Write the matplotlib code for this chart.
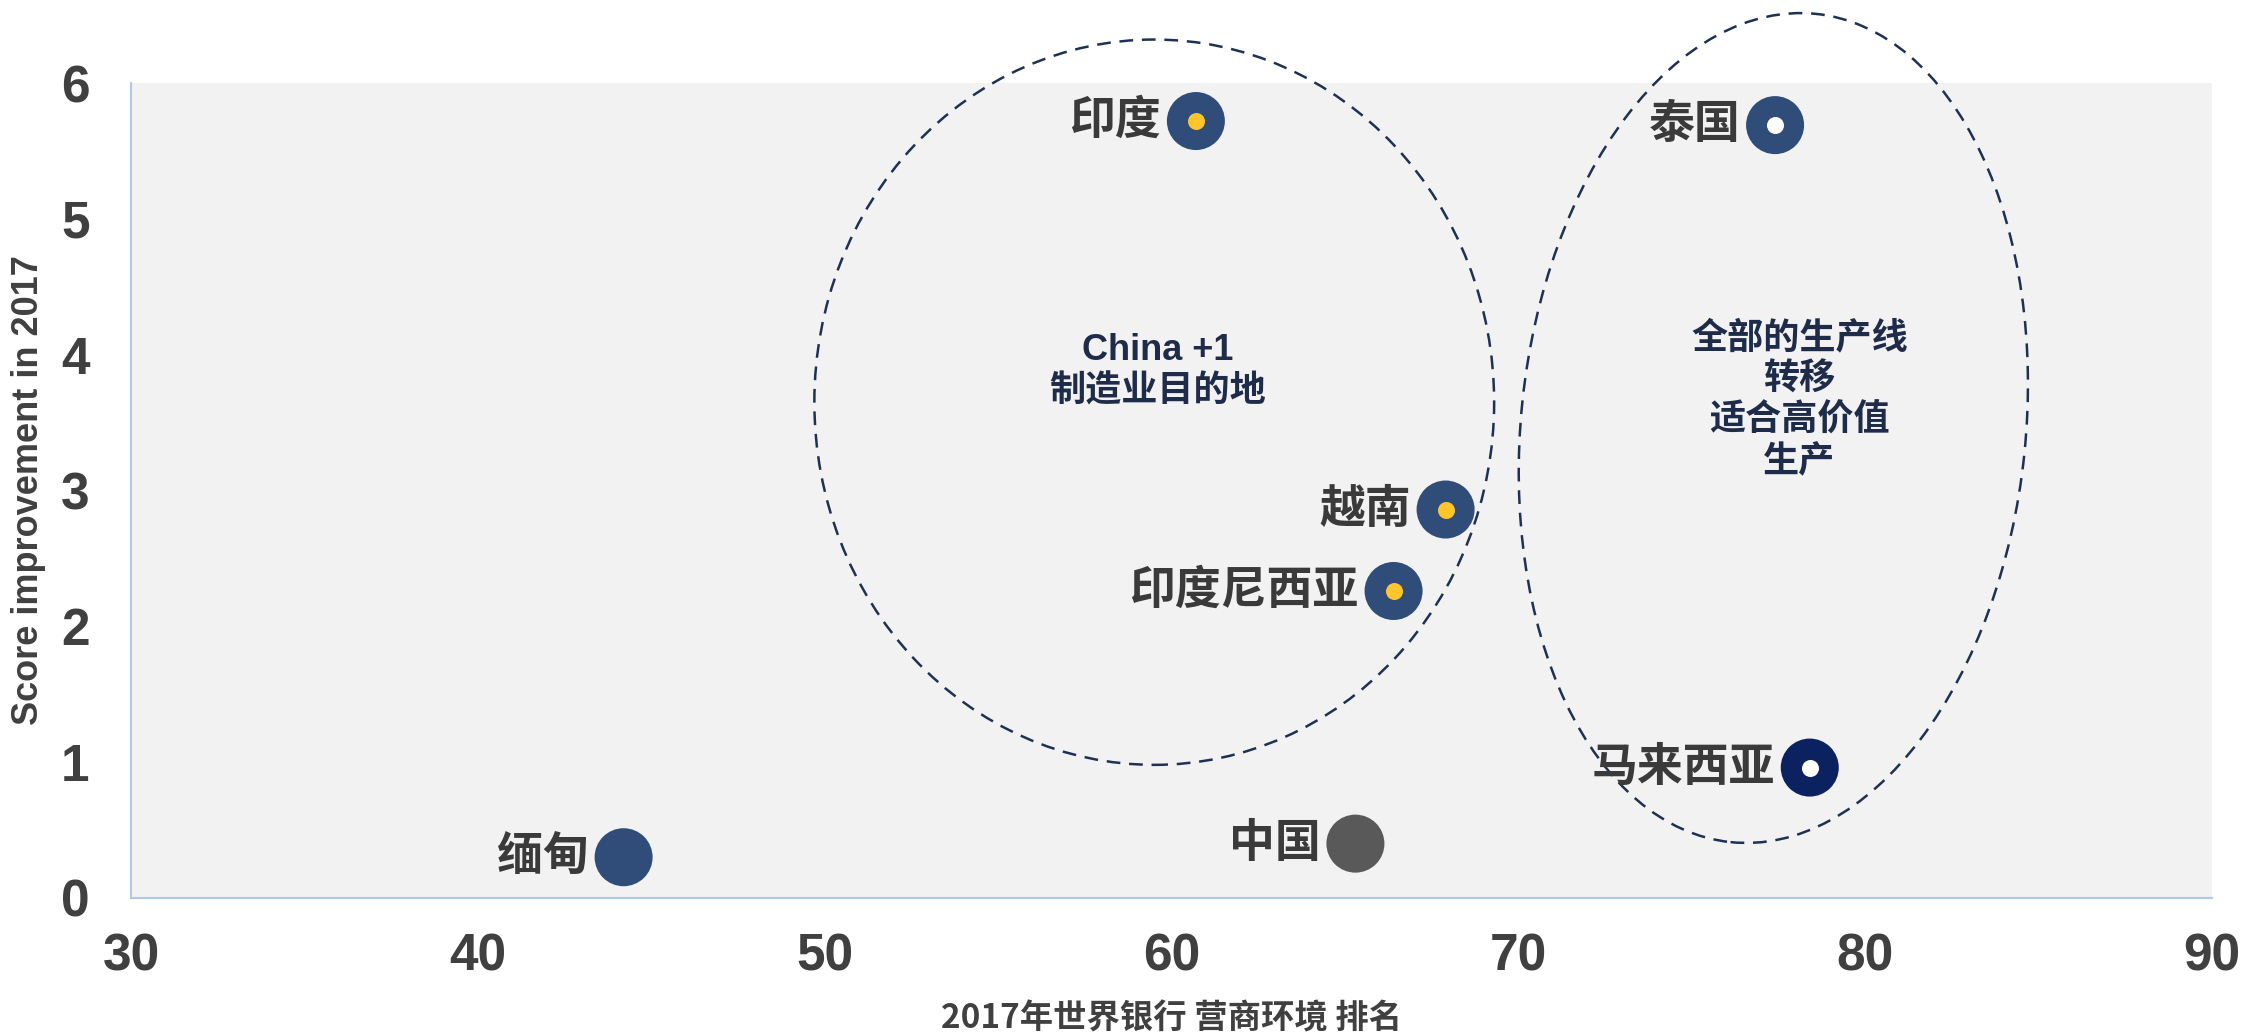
import numpy as np
import matplotlib
matplotlib.use('Agg')
import matplotlib.pyplot as plt
from matplotlib.patches import Ellipse
from matplotlib import transforms

plt.rcParams['font.family'] = ['Liberation Sans', 'Noto Sans CJK SC', 'DejaVu Sans']

# data
paises = ['印度', '泰国', '越南', '印度尼西亚', '马来西亚', '中国', '缅甸']
ranking = [60.7, 77.4, 67.9, 66.4, 78.4, 65.3, 44.2]
melhoria = [5.72, 5.69, 2.86, 2.26, 0.96, 0.40, 0.30]
cores = ['#304D79', '#304D79', '#304D79', '#304D79', '#0C2260', '#595959', '#304D79']
centro = ['#FFC62B', 'white', '#FFC62B', '#FFC62B', 'white', None, None]

x_ticks = [30, 40, 50, 60, 70, 80, 90]
y_ticks = [0, 1, 2, 3, 4, 5, 6]

texto_esq = 'China +1\n制造业目的地'
texto_dir = '全部的生产线\n转移\n适合高价值\n生产'

cinza = '#404040'
azul_txt = '#1E2C4A'

fig = plt.figure(figsize=(22.41, 10.35), dpi=100)
ax = fig.add_axes([0.0585, 0.1324, 0.9286, 0.7874])
ax.set_facecolor('#F2F2F2')
ax.set_xlim(30, 90)
ax.set_ylim(0, 6)
ax.set_xticks(x_ticks)
ax.set_yticks(y_ticks)

for s in ['top', 'right']:
    ax.spines[s].set_visible(False)
for s in ['left', 'bottom']:
    ax.spines[s].set_color('#B4C7E7')
    ax.spines[s].set_linewidth(1.5)

ax.tick_params(axis='both', length=0, labelsize=37, labelcolor=cinza)
ax.tick_params(axis='x', pad=25)
ax.tick_params(axis='y', pad=30)
for lb in ax.get_xticklabels() + ax.get_yticklabels():
    lb.set_fontweight('bold')

ax.set_xlabel('2017年世界银行 营商环境 排名', fontsize=24, fontweight='bold', color=cinza,
              family=['Noto Sans CJK SC', 'DejaVu Sans'], labelpad=15)
ax.set_ylabel('Score improvement in 2017', fontsize=26, fontweight='bold', color=cinza, labelpad=11)

# pontos
ax.scatter(ranking, melhoria, s=1745, c=cores, zorder=3, linewidths=0)
for i, p in enumerate(paises):
    if centro[i] is not None:
        ax.scatter(ranking[i], melhoria[i], s=150, c=centro[i], zorder=4, linewidths=0)
    ax.annotate(p, (ranking[i], melhoria[i]), xytext=(-25, 0), textcoords='offset points',
                ha='right', va='center', fontsize=33, fontweight='bold', color='#3A3A3A',
                family=['Noto Sans CJK SC', 'DejaVu Sans'], zorder=5)

# elipses (tamanho em unidades de dados, convertido para pixels)
fig.canvas.draw()
p0 = ax.transData.transform((30, 0))
p1 = ax.transData.transform((31, 1))
sx = p1[0] - p0[0]
sy = p1[1] - p0[1]

elipses = [
    # cx, cy, largura (x), altura (y), angulo
    (59.5, 3.65, 19.6, 5.34, 0),
    (77.35, 3.46, 14.55, 6.13, -5.9),
]
for cx, cy, w, h, ang in elipses:
    e = Ellipse((0, 0), w * sx, h * sy, angle=ang, fill=False, edgecolor='#1F3153',
                linewidth=1.8, linestyle=(0, (5.5, 3.5)),
                transform=transforms.ScaledTranslation(cx, cy, ax.transData), zorder=2)
    e.set_clip_on(False)
    ax.add_patch(e)

ax.text(59.6, 3.88, texto_esq, ha='center', va='center', fontsize=26, fontweight='bold',
        color=azul_txt, family=['Liberation Sans', 'Noto Sans CJK SC'], linespacing=1.25)
ax.text(78.1, 3.67, texto_dir, ha='center', va='center', fontsize=26, fontweight='bold',
        color=azul_txt, family=['Noto Sans CJK SC', 'DejaVu Sans'], linespacing=1.15)

plt.savefig('out.png', dpi=100)
